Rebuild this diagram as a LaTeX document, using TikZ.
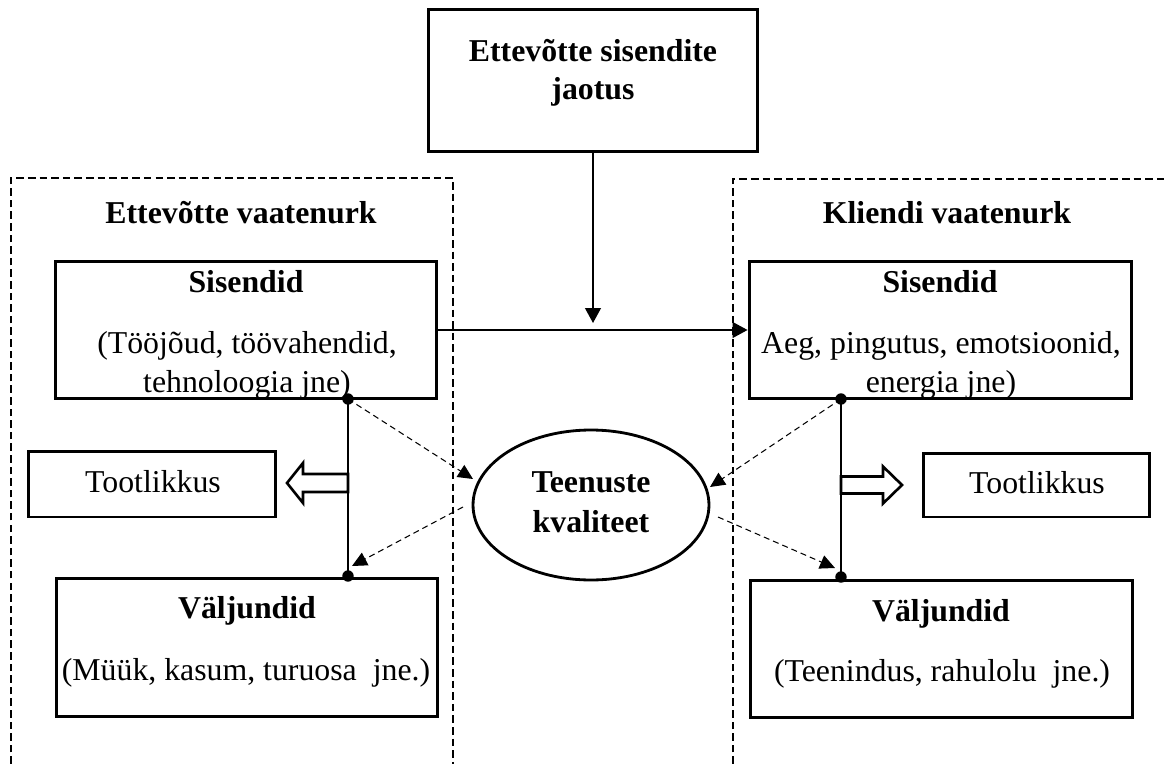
\documentclass[tikz,border=0pt]{standalone}
\usepackage{fontspec}
\setmainfont{Liberation Serif}
\usetikzlibrary{arrows.meta,shapes.geometric}

\begin{document}
\begin{tikzpicture}[x=0.02cm,y=-0.02cm,
  box/.style={draw,line width=1.7pt,rectangle,inner sep=0pt},
  oval/.style={draw,line width=1.6pt,ellipse,inner sep=0pt},
  txt/.style={anchor=base,inner sep=0pt,font=\fontsize{18.1}{21}\selectfont},
  btxt/.style={anchor=base,inner sep=0pt,font=\fontsize{18.1}{21}\selectfont\bfseries},
  frame/.style={line width=1.3pt,dash pattern=on 4.3pt off 2.3pt},
  link/.style={line width=1.1pt},
  flow/.style={line width=0.9pt,-{Triangle[length=8.5pt,width=9pt]}},
  dlink/.style={line width=0.6pt,dash pattern=on 3.4pt off 2.3pt,-{Triangle[length=8.5pt,width=8pt]}},
  dot/.style={circle,fill,inner sep=0pt,minimum size=6.5pt},
  fat/.style={draw,line width=1.5pt,fill=white,line join=miter}
]
\useasboundingbox (0,0) rectangle (1164,764);

% perspective frames (open at the page edges)
\draw[frame] (11,764) -- (11,178) -- (453,178) -- (453,764);
\draw[frame] (733,764) -- (733,179) -- (1164,179);

% boxes
\node[box,minimum width=6.6cm,minimum height=2.86cm] (top) at (593,80.5) {};
\node[box,minimum width=7.64cm,minimum height=2.76cm] (lin) at (246,330) {};
\node[box,minimum width=7.66cm,minimum height=2.76cm] (rin) at (940.5,330) {};
\node[box,minimum width=4.96cm,minimum height=1.32cm] (lprod) at (152,484) {};
\node[box,minimum width=4.54cm,minimum height=1.28cm] (rprod) at (1036.5,485) {};
\node[box,minimum width=7.64cm,minimum height=2.78cm] (lout) at (247,647.5) {};
\node[box,minimum width=7.66cm,minimum height=2.76cm] (rout) at (941.5,649) {};
\node[oval,minimum width=4.72cm,minimum height=3.0cm] (q) at (591,505) {};

% texts
\node[btxt] (t1) at (593,61) {Ettevõtte sisendite};
\node[btxt] (t2) at (593,99) {jaotus};
\node[btxt] (lt) at (241,223) {Ettevõtte vaatenurk};
\node[btxt] (rt) at (947,223) {Kliendi vaatenurk};
\node[btxt] (lin1) at (246,292) {Sisendid};
\node[txt]  (lin2) at (247,353) {(Tööjõud, töövahendid,};
\node[txt]  (lin3) at (247,392) {tehnoloogia jne)};
\node[btxt] (rin1) at (940,292) {Sisendid};
\node[txt]  (rin2) at (941,353) {Aeg, pingutus, emotsioonid,};
\node[txt]  (rin3) at (941,392) {energia jne)};
\node[txt]  (lp) at (153,492) {Tootlikkus};
\node[txt]  (rp) at (1037,493) {Tootlikkus};
\node[btxt] (lout1) at (247,618) {Väljundid};
\node[txt]  (lout2) at (246,680) {(Müük, kasum, turuosa\ \ jne.)};
\node[btxt] (rout1) at (941,621) {Väljundid};
\node[txt]  (rout2) at (942,681) {(Teenindus, rahulolu\ \ jne.)};
\node[btxt] (q1) at (591,492) {Teenuste};
\node[btxt] (q2) at (591,532) {kvaliteet};

% connection points
\coordinate (ltop) at (348,399);
\coordinate (lbot) at (348,576);
\coordinate (rtop) at (841,399);
\coordinate (rbot) at (841,577);
\coordinate (toptip) at (593,323);
\coordinate (larr) at (348,483);
\coordinate (rarr) at (841,485);
\coordinate (qlin) at (473,479);
\coordinate (qlout) at (463,507);
\coordinate (lbtip) at (352,566);
\coordinate (qrin) at (710,487);
\coordinate (qrout) at (718,517);
\coordinate (rbtip) at (835,568);

% productivity block arrows
\draw[fat] (larr) ++(0,-9) -- ++(-45,0) -- ++(0,-11) -- ++(-16,20)
  -- ++(16,20) -- ++(0,-11) -- ++(45,0) -- cycle;
\draw[fat] (rarr) ++(0,-8.5) -- ++(42,0) -- ++(0,-10) -- ++(19,18.5)
  -- ++(-19,18.5) -- ++(0,-10) -- ++(-42,0) -- cycle;

% inputs to outputs
\draw[link] (ltop) -- (lbot);
\draw[link] (rtop) -- (rbot);
\node[dot] (d1) at (ltop) {};
\node[dot] (d2) at (lbot) {};
\node[dot] (d3) at (rtop) {};
\node[dot] (d4) at (rbot) {};

% distribution of inputs
\draw[flow] (top.south) -- (toptip);
\draw[flow] (lin.east) -- (rin.west);

% service quality links
\draw[dlink] (ltop) -- (qlin);
\draw[dlink] (qlout) -- (lbtip);
\draw[dlink] (rtop) -- (qrin);
\draw[dlink] (qrout) -- (rbtip);
\end{tikzpicture}
\end{document}
